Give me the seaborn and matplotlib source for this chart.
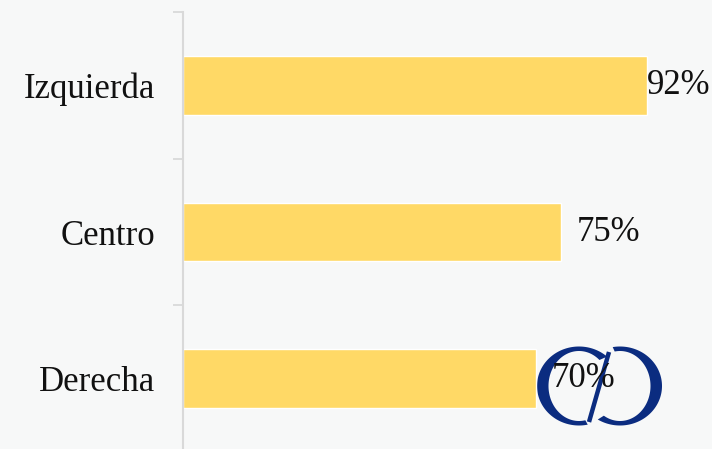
import numpy as np
import pandas as pd
import matplotlib
matplotlib.use("Agg")
import matplotlib.pyplot as plt
from matplotlib.patches import Polygon
import seaborn as sns

categories = ["Izquierda", "Centro", "Derecha"]
values = [92, 75, 70]
value_labels = ["92%", "75%", "70%"]

BG = "#F7F8F8"
BAR = "#FFD966"
GRID = "#D9D9D9"
LOGO = "#0B2C80"

sns.set_theme(style="white")
plt.rcParams["font.family"] = ["Liberation Serif", "DejaVu Serif"]

W, H = 712, 449
fig = plt.figure(figsize=(W / 100, H / 100), dpi=100, facecolor=BG)

# Logo layer (pixel coordinates), drawn underneath the chart
ax_logo = fig.add_axes([0, 0, 1, 1], zorder=0)
ax_logo.set_xlim(0, W)
ax_logo.set_ylim(H, 0)
ax_logo.axis("off")
ax_logo.set_facecolor(BG)


def ring(cx, cy, t0, t1, ao=42, bo=39.5, ai=30.5, bi=35):
    th = np.radians(np.linspace(t0, t1, 160))
    outer = np.column_stack([cx + ao * np.cos(th), cy - bo * np.sin(th)])
    inner = np.column_stack([cx + ai * np.cos(th[::-1]), cy - bi * np.sin(th[::-1])])
    return Polygon(np.vstack([outer, inner]), closed=True, color=LOGO, lw=0)


ax_logo.add_patch(ring(579, 386, 48, 282))
ax_logo.add_patch(ring(620, 386, -122, 100))
ax_logo.plot([609, 589], [352, 422], color=LOGO, lw=3.2, solid_capstyle="butt")

# Bar chart
ax = fig.add_axes([183 / W, -3 / H, 529 / W, 440 / H], zorder=1)
ax.patch.set_alpha(0)
df = pd.DataFrame({"cat": categories, "val": values})
sns.barplot(data=df, x="val", y="cat", orient="h", color=BAR, width=0.4,
            saturation=1, ax=ax)

ax.set_xlim(0, (W - 183) / 5.043)
ax.set_ylim(2.5, -0.5)
ax.set_xlabel("")
ax.set_ylabel("")
ax.set_xticks([])

for s in ["top", "right", "bottom"]:
    ax.spines[s].set_visible(False)
ax.spines["left"].set_color(GRID)
ax.spines["left"].set_linewidth(1.5)

ax.set_yticks(range(len(categories)))
ax.set_yticklabels(categories, fontsize=25, color="#111111")
ax.tick_params(axis="y", which="major", left=False, length=0, pad=20)
ax.set_yticks(np.arange(-0.5, len(categories), 1.0), minor=True)
ax.tick_params(axis="y", which="minor", left=True, length=7.5, width=1.3,
               color=GRID)

right_limit = 92.0
for i, (v, lab) in enumerate(zip(values, value_labels)):
    ax.text(min(v + 3.1, right_limit), i, lab, va="center", ha="left",
            fontsize=25, color="#111111", zorder=5)

fig.savefig("out.png", dpi=100, facecolor=BG)
